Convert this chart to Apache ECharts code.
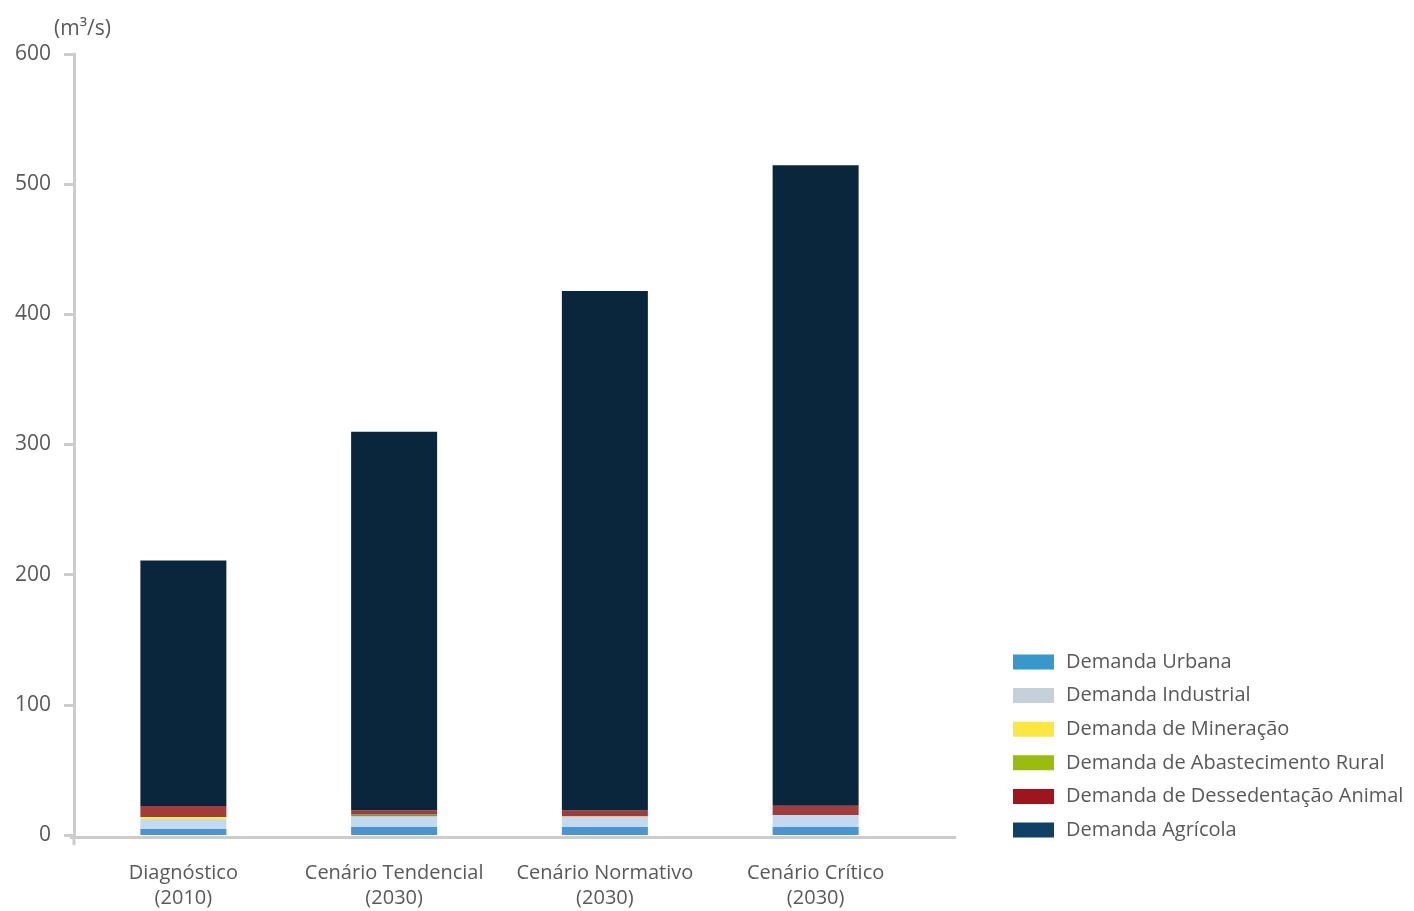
<!DOCTYPE html>
<html>
<head>
<meta charset="utf-8">
<script src="https://cdn.jsdelivr.net/npm/echarts@6/dist/echarts.min.js"></script>
<style>html,body{margin:0;padding:0;background:#fff}#c{width:1414px;height:911px}</style>
</head>
<body>
<div id="c"></div>
<script>
const categories = ['Diagnóstico\n(2010)', 'Cenário Tendencial\n(2030)', 'Cenário Normativo\n(2030)', 'Cenário Crítico\n(2030)'];
const seriesNames = ['Demanda Urbana', 'Demanda Industrial', 'Demanda de Mineração', 'Demanda de Abastecimento Rural', 'Demanda de Dessedentação Animal', 'Demanda Agrícola'];
const urbana = [4.6, 6.1, 6.1, 6.1];
const industrial = [7.7, 8.4, 7.9, 9.2];
const mineracao = [1.5, 0, 0.5, 0];
const rural = [0, 1.5, 0, 0];
const dessedentacao = [8.4, 3.1, 4.4, 7.1];
const agricola = [188.7, 290.7, 399.1, 492.2];
const yTicks = [0, 100, 200, 300, 400, 500, 600];

const values = [urbana, industrial, mineracao, rural, dessedentacao, agricola];
const barColors = ['#4a94d4', '#c2d9ef', '#fff23a', '#7a9a40', '#a33b3a', '#0a263d'];
const legendColors = ['#3798cb', '#c5d1da', '#fce63f', '#99bc0e', '#a0141e', '#0e4165'];
const font = '"Open Sans", "Noto Sans", sans-serif';
const txt = '#595959';

const chart = echarts.init(document.getElementById('c'));
chart.setOption({
  animation: false,
  title: {
    text: '(m³/s)', left: 49, top: 14,
    textStyle: { fontFamily: font, fontSize: 21, fontWeight: 'normal', color: txt }
  },
  grid: { left: 78, width: 843, top: 54, bottom: 75 },
  legend: {
    orient: 'vertical', left: 1008, top: 647, itemWidth: 41, itemHeight: 15, itemGap: 13.6,
    icon: 'rect',
    textStyle: { fontFamily: font, fontSize: 20, color: txt, padding: [0, 0, 0, 7] },
    data: seriesNames.map((n, i) => ({ name: n, itemStyle: { color: legendColors[i] } }))
  },
  xAxis: {
    type: 'category', data: categories,
    axisLine: { show: false }, axisTick: { show: false },
    axisLabel: { fontFamily: font, fontSize: 20, color: txt, margin: 26, lineHeight: 25, interval: 0 }
  },
  yAxis: {
    type: 'value', min: yTicks[0], max: yTicks[yTicks.length - 1], interval: 100, offset: 4,
    splitLine: { show: false },
    axisLine: { show: true, lineStyle: { color: '#cccccc', width: 3 } },
    axisTick: { show: true, length: 10, lineStyle: { color: '#cccccc', width: 3 } },
    axisLabel: { fontFamily: font, fontSize: 21, color: txt, margin: 23 }
  },
  graphic: [
    { type: 'line', shape: { x1: 70, y1: 837.5, x2: 956, y2: 837.5 }, style: { stroke: '#cccccc', lineWidth: 3 }, z: 10 },
    { type: 'line', shape: { x1: 74, y1: 836, x2: 74, y2: 845 }, style: { stroke: '#cccccc', lineWidth: 3 }, z: 10 }
  ],
  series: seriesNames.map((n, i) => ({
    name: n, type: 'bar', stack: 'total', barWidth: 86,
    itemStyle: { color: barColors[i] },
    data: values[i]
  }))
});
</script>
</body>
</html>
